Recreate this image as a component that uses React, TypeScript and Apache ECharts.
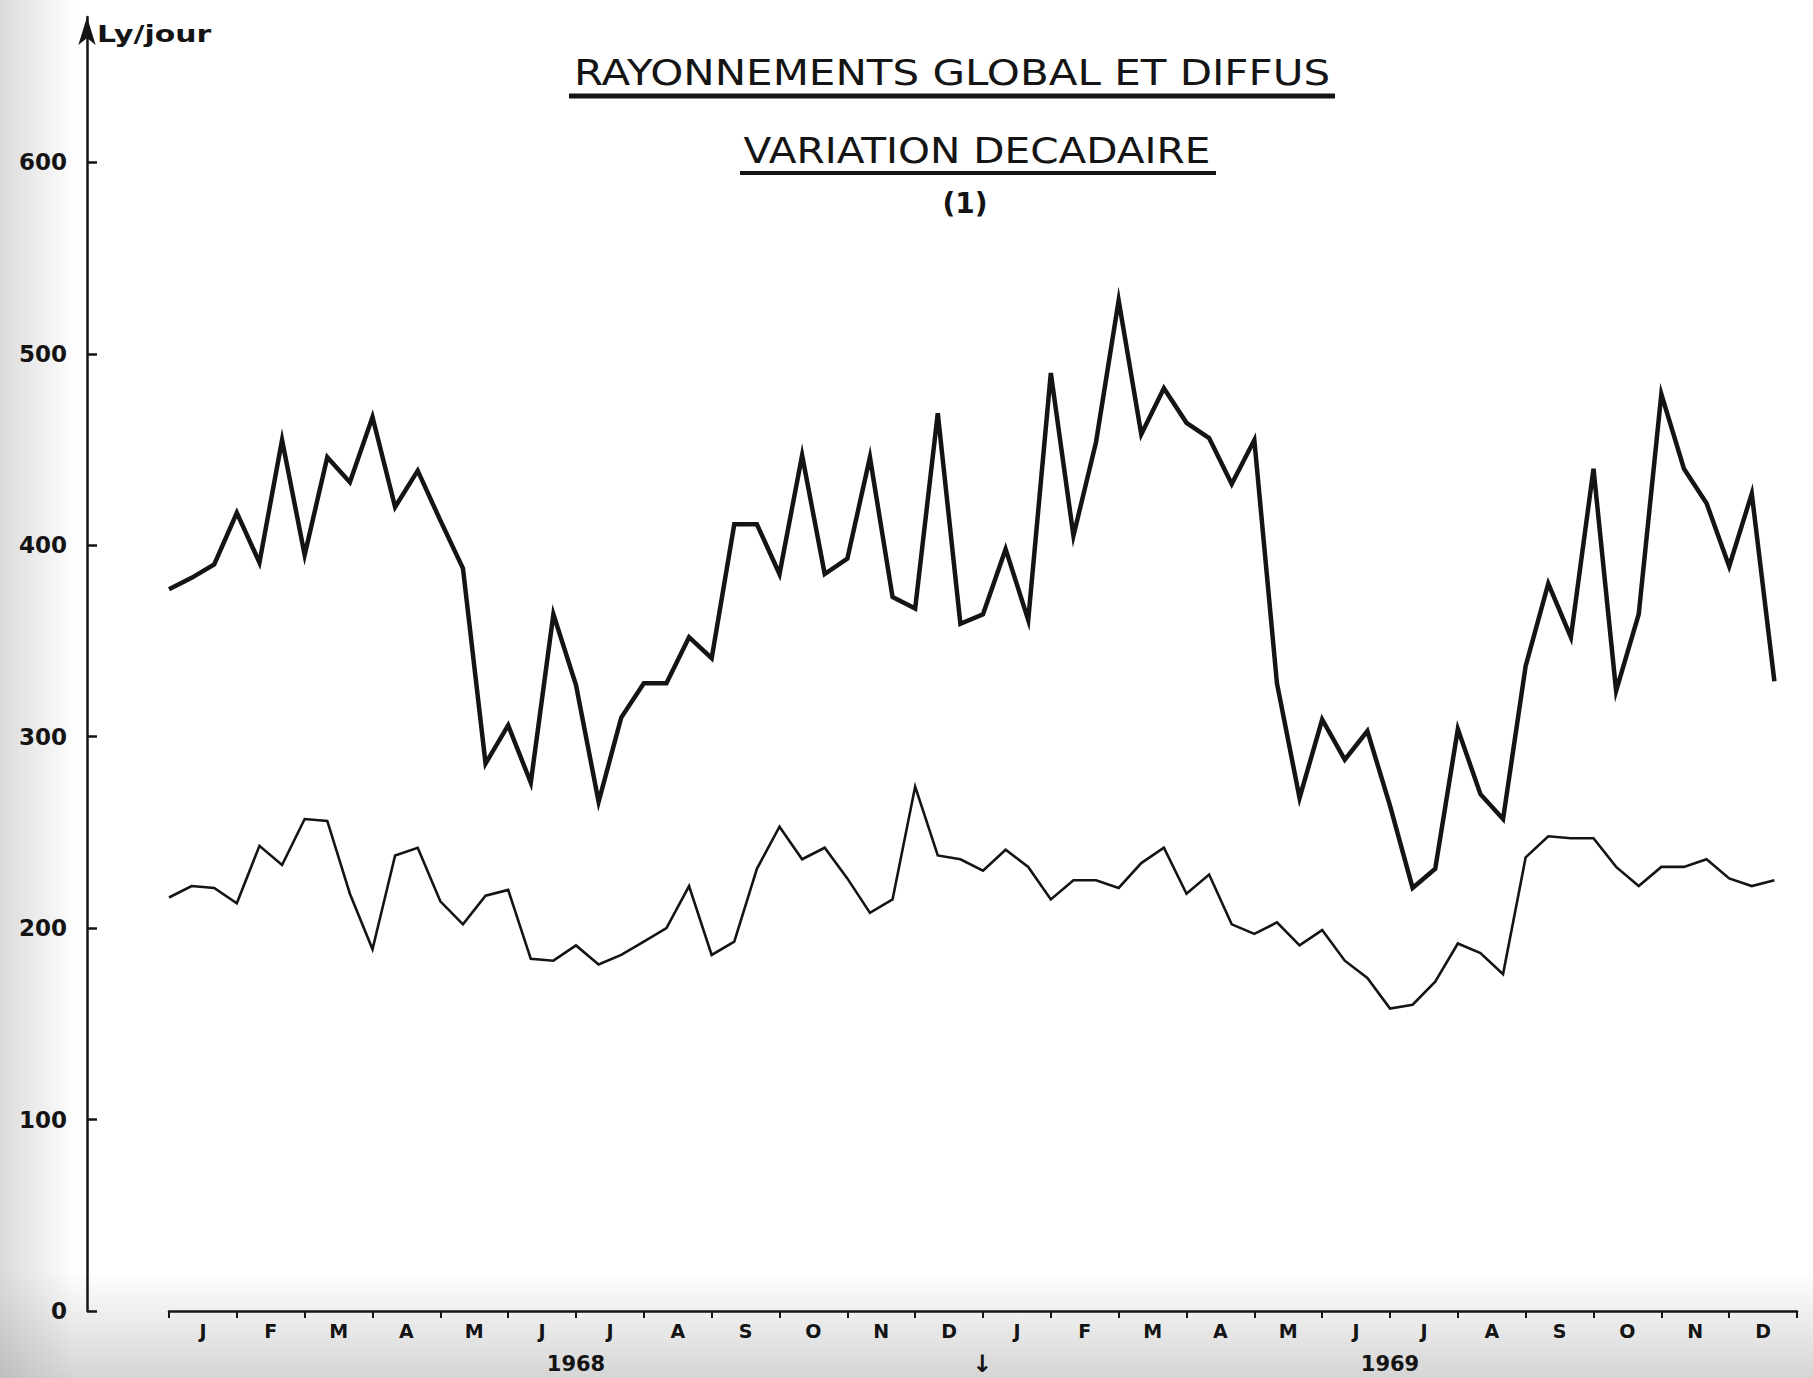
import React, { useEffect, useRef } from "react";
import * as echarts from "echarts";

// Axis vocabulary
const MONTHS = ["J", "F", "M", "A", "M", "J", "J", "A", "S", "O", "N", "D"];
const YEARS = ["1968", "1969"];
const Y_TICKS = [0, 100, 200, 300, 400, 500, 600];
const DECADES_PER_MONTH = 3;

// Rayonnement global, moyennes décadaires (Ly/jour), janv. 1968 – déc. 1969
const GLOBAL = [
  377, 383, 390, 417, 391, 455, 395, 446, 433, 467, 420, 439,
  413, 388, 286, 306, 276, 364, 327, 266, 310, 328, 328, 352,
  341, 411, 411, 385, 447, 385, 393, 446, 373, 367, 469, 359,
  364, 398, 361, 490, 405, 454, 528, 458, 482, 464, 456, 432,
  455, 328, 268, 309, 288, 303, 264, 221, 231, 304, 270, 257,
  337, 380, 352, 440, 324, 364, 479, 440, 422, 389, 427, 329,
];

// Rayonnement diffus, moyennes décadaires (Ly/jour)
const DIFFUS = [
  216, 222, 221, 213, 243, 233, 257, 256, 218, 189, 238, 242,
  214, 202, 217, 220, 184, 183, 191, 181, 186, 193, 200, 222,
  186, 193, 231, 253, 236, 242, 226, 208, 215, 274, 238, 236,
  230, 241, 232, 215, 225, 225, 221, 234, 242, 218, 228, 202,
  197, 203, 191, 199, 183, 174, 158, 160, 172, 192, 187, 176,
  237, 248, 247, 247, 232, 222, 232, 232, 236, 226, 222, 225,
];

const INK = "#141414";
const FONT = "DejaVu Sans";

export default function App() {
  const ref = useRef<HTMLDivElement>(null);

  useEffect(() => {
    const el = ref.current;
    if (!el) return;
    const chart = echarts.init(el, undefined, { renderer: "svg" });

    const nDecades = YEARS.length * MONTHS.length * DECADES_PER_MONTH;
    const monthCats = YEARS.flatMap((y) => MONTHS.map((m, i) => `${m}|${y}|${i}`));
    const TOP = 17;
    const BOTTOM = 67;
    const Y_MAX = 676;

    const option: any = {
      animation: false,
      backgroundColor: "#ffffff",
      grid: [
        { left: 87, top: TOP, bottom: BOTTOM, width: 1 },
        { left: 169, right: 16, top: TOP, bottom: BOTTOM },
      ],
      xAxis: [
        { gridIndex: 0, type: "value", show: false },
        { gridIndex: 1, type: "value", min: 0, max: nDecades, show: false },
        {
          gridIndex: 1,
          type: "category",
          position: "bottom",
          data: monthCats,
          boundaryGap: true,
          axisLine: { show: true, lineStyle: { color: INK, width: 2.5 } },
          axisTick: { show: true, interval: 0, length: 7, lineStyle: { color: INK, width: 2 } },
          axisLabel: {
            interval: 0,
            formatter: (v: string) => v.split("|")[0],
            color: INK,
            fontFamily: FONT,
            fontWeight: "bold",
            fontSize: 19,
            margin: 10,
          },
          splitLine: { show: false },
        },
        {
          gridIndex: 1,
          type: "category",
          position: "bottom",
          offset: 34,
          data: YEARS,
          axisLine: { show: false },
          axisTick: { show: false },
          axisLabel: {
            color: INK,
            fontFamily: FONT,
            fontWeight: "bold",
            fontSize: 21,
            margin: 8,
          },
          splitLine: { show: false },
        },
      ],
      yAxis: [
        {
          gridIndex: 0,
          type: "value",
          position: "left",
          min: 0,
          max: Y_MAX,
          axisLine: {
            show: true,
            lineStyle: { color: INK, width: 2.5 },
            symbol: ["none", "arrow"],
            symbolSize: [13, 28],
          },
          axisTick: {
            show: true,
            inside: true,
            length: 10,
            customValues: Y_TICKS,
            lineStyle: { color: INK, width: 2.5 },
          },
          axisLabel: {
            customValues: Y_TICKS,
            margin: 20,
            color: INK,
            fontFamily: FONT,
            fontWeight: "bold",
            fontSize: 23,
          },
          splitLine: { show: false },
        },
        { gridIndex: 1, type: "value", min: 0, max: Y_MAX, show: false },
      ],
      series: [
        {
          name: "Global",
          type: "line",
          xAxisIndex: 1,
          yAxisIndex: 1,
          data: GLOBAL.map((v, i) => [i, v]),
          symbol: "none",
          silent: true,
          lineStyle: { color: INK, width: 4.5, join: "miter", miterLimit: 8 },
        },
        {
          name: "Diffus",
          type: "line",
          xAxisIndex: 1,
          yAxisIndex: 1,
          data: DIFFUS.map((v, i) => [i, v]),
          symbol: "none",
          silent: true,
          lineStyle: { color: INK, width: 2.6, join: "miter", miterLimit: 8 },
        },
      ],
      graphic: [
        // worn paper tone along the left and bottom edges
        {
          type: "rect",
          z: -10,
          silent: true,
          shape: { x: 0, y: 0, width: 75, height: 1378 },
          style: {
            fill: new echarts.graphic.LinearGradient(0, 0, 1, 0, [
              { offset: 0, color: "rgba(150,150,150,0.35)" },
              { offset: 1, color: "rgba(150,150,150,0)" },
            ]),
          },
        },
        {
          type: "rect",
          z: -10,
          silent: true,
          shape: { x: 0, y: 1270, width: 1813, height: 108 },
          style: {
            fill: new echarts.graphic.LinearGradient(0, 0, 0, 1, [
              { offset: 0, color: "rgba(150,150,150,0)" },
              { offset: 1, color: "rgba(150,150,150,0.4)" },
            ]),
          },
        },
        {
          type: "text",
          silent: true,
          x: 97,
          y: 34,
          scaleX: 1.3,
          style: {
            text: "Ly/jour",
            fill: INK,
            fontFamily: FONT,
            fontWeight: "bold",
            fontSize: 23,
            align: "left",
            textAlign: "left",
            verticalAlign: "middle",
            textVerticalAlign: "middle",
          },
        },
        {
          type: "text",
          silent: true,
          x: 952,
          y: 73,
          scaleX: 1.2,
          style: {
            text: "RAYONNEMENTS GLOBAL ET DIFFUS",
            fill: INK,
            fontFamily: FONT,
            fontSize: 35,
            align: "center",
            textAlign: "center",
            verticalAlign: "middle",
            textVerticalAlign: "middle",
          },
        },
        {
          type: "line",
          silent: true,
          shape: { x1: 569, y1: 96, x2: 1335, y2: 96 },
          style: { stroke: INK, lineWidth: 5 },
        },
        {
          type: "text",
          silent: true,
          x: 977,
          y: 151,
          scaleX: 1.16,
          style: {
            text: "VARIATION DECADAIRE",
            fill: INK,
            fontFamily: FONT,
            fontSize: 35,
            align: "center",
            textAlign: "center",
            verticalAlign: "middle",
            textVerticalAlign: "middle",
          },
        },
        {
          type: "line",
          silent: true,
          shape: { x1: 740, y1: 173, x2: 1216, y2: 173 },
          style: { stroke: INK, lineWidth: 4 },
        },
        {
          type: "text",
          silent: true,
          x: 965,
          y: 203,
          style: {
            text: "(1)",
            fill: INK,
            fontFamily: FONT,
            fontWeight: "bold",
            fontSize: 28,
            align: "center",
            textAlign: "center",
            verticalAlign: "middle",
            textVerticalAlign: "middle",
          },
        },
        {
          type: "text",
          silent: true,
          x: 982,
          y: 1364,
          style: {
            text: "↓",
            fill: INK,
            fontFamily: FONT,
            fontWeight: "bold",
            fontSize: 24,
            align: "center",
            textAlign: "center",
            verticalAlign: "middle",
            textVerticalAlign: "middle",
          },
        },
      ],
    };

    chart.setOption(option);
    return () => chart.dispose();
  }, []);

  return (
    <div
      ref={ref}
      style={{ position: "fixed", left: 0, top: 0, width: 1813, height: 1378, background: "#ffffff" }}
    />
  );
}
